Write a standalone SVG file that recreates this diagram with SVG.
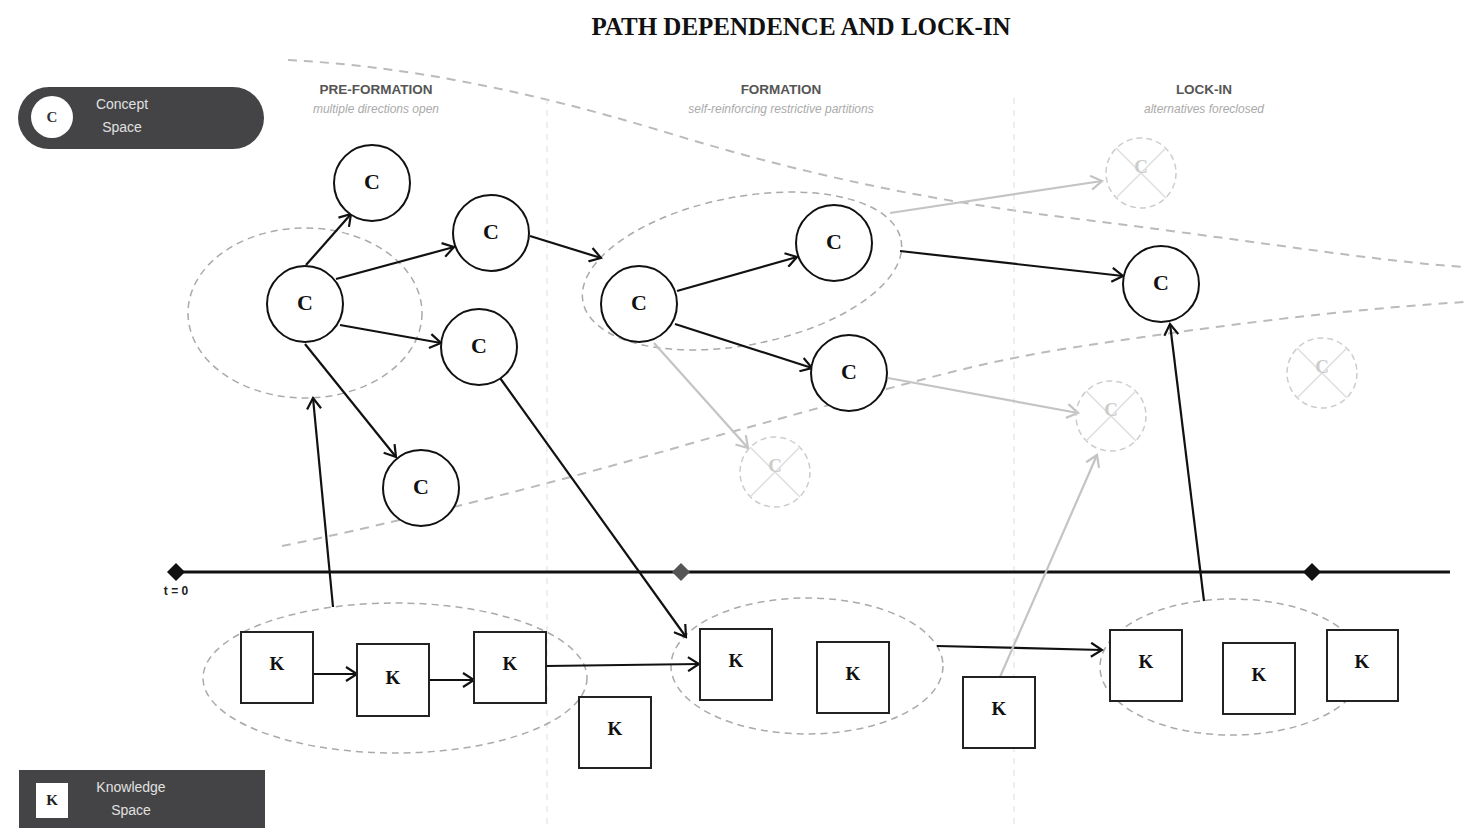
<svg xmlns="http://www.w3.org/2000/svg" width="1465" height="828" viewBox="0 0 1465 828">
<style>
.title{font-family:"Liberation Serif",serif;font-weight:bold;font-size:25px;fill:#111;text-anchor:middle}
.phase{font-family:"Liberation Sans",Arial,sans-serif;font-weight:bold;font-size:13.5px;fill:#555;text-anchor:middle}
.sub{font-family:"Liberation Sans",Arial,sans-serif;font-style:italic;font-size:12px;fill:#aaa;text-anchor:middle}
.cn{fill:#fff;stroke:#111;stroke-width:2}
.ct{font-family:"Liberation Serif",serif;font-weight:bold;font-size:22px;fill:#111;text-anchor:middle}
.kn{fill:#fff;stroke:#222;stroke-width:2}
.kt{font-family:"Liberation Serif",serif;font-weight:bold;font-size:19px;fill:#111;text-anchor:middle}
.fc{fill:none;stroke:#ccc;stroke-width:1.5;stroke-dasharray:6,4}
.fx{stroke:#ddd;stroke-width:1.5}
.ft{font-family:"Liberation Serif",serif;font-weight:bold;font-size:19px;fill:#ccc;text-anchor:middle}
.grp{fill:none;stroke:#aaa;stroke-width:1.5;stroke-dasharray:7,5}
.bound{fill:none;stroke:#bbb;stroke-width:2;stroke-dasharray:9,7}
.sep{stroke:#ddd;stroke-width:1;stroke-dasharray:6,6}
.ar{fill:none;stroke:#111;stroke-width:2.2;marker-end:url(#ab)}
.ag{fill:none;stroke:#c4c4c4;stroke-width:2.2;marker-end:url(#ag)}
.lt{font-family:"Liberation Sans",Arial,sans-serif;font-size:14px;fill:#e0e0e0;text-anchor:middle}
</style>
<defs>
<marker id="ab" viewBox="0 0 14 16" refX="12" refY="8" markerWidth="14" markerHeight="16" markerUnits="userSpaceOnUse" orient="auto">
<path d="M1,1 L12,8 L1,15" fill="none" stroke="#111" stroke-width="2.2"/>
</marker>
<marker id="ag" viewBox="0 0 14 16" refX="12" refY="8" markerWidth="14" markerHeight="16" markerUnits="userSpaceOnUse" orient="auto">
<path d="M1,1 L12,8 L1,15" fill="none" stroke="#c4c4c4" stroke-width="2.2"/>
</marker>
</defs>
<rect width="1465" height="828" fill="#fff"/>
<text class="title" x="801" y="35">PATH DEPENDENCE AND LOCK-IN</text>

<g id="boundaries">
<path class="bound" d="M288,60 C400,66 520,88 665,132 C780,167 900,197 1070,218 C1250,240 1380,262 1465,267"/>
<path class="bound" d="M282,546 C400,522 560,482 720,435 C880,392 960,365 1070,348 C1250,320 1380,307 1465,302"/>
</g>

<g id="phases">
<line class="sep" x1="547" y1="98" x2="547" y2="828"/>
<line class="sep" x1="1014" y1="98" x2="1014" y2="828"/>
<text class="phase" x="376" y="94">PRE-FORMATION</text>
<text class="sub" x="376" y="113">multiple directions open</text>
<text class="phase" x="781" y="94">FORMATION</text>
<text class="sub" x="781" y="113">self-reinforcing restrictive partitions</text>
<text class="phase" x="1204" y="94">LOCK-IN</text>
<text class="sub" x="1204" y="113">alternatives foreclosed</text>
</g>

<g id="timeline">
<line x1="176" y1="572" x2="1450" y2="572" stroke="#111" stroke-width="3"/>
<path d="M176,563 L185,572 L176,581 L167,572 Z" fill="#111"/>
<path d="M681,563 L690,572 L681,581 L672,572 Z" fill="#555"/>
<path d="M1312,563 L1321,572 L1312,581 L1303,572 Z" fill="#111"/>
<text x="176" y="595" font-family="Liberation Sans, Arial, sans-serif" font-weight="bold" font-size="12" fill="#222" text-anchor="middle">t = 0</text>
</g>

<g id="groups">
<ellipse class="grp" cx="305" cy="313" rx="117" ry="85"/>
<ellipse class="grp" cx="742" cy="271" rx="162" ry="74" transform="rotate(-11 742 271)"/>
<ellipse class="grp" cx="395" cy="678" rx="192" ry="75"/>
<ellipse class="grp" cx="807" cy="666" rx="136" ry="68"/>
<ellipse class="grp" cx="1232" cy="667" rx="132" ry="68"/>
</g>

<g id="connectors">
<line class="ar" x1="306" y1="265" x2="351" y2="214"/>
<line class="ar" x1="336" y1="279" x2="454" y2="247"/>
<line class="ar" x1="340" y1="325" x2="441" y2="343"/>
<line class="ar" x1="305" y1="344" x2="396" y2="457"/>
<line class="ar" x1="530" y1="236" x2="601" y2="258"/>
<line class="ar" x1="677" y1="291" x2="797" y2="257"/>
<line class="ar" x1="675" y1="324" x2="812" y2="368"/>
<line class="ar" x1="900" y1="251" x2="1123" y2="276"/>
<line class="ar" x1="313" y1="674" x2="357" y2="674"/>
<line class="ar" x1="429" y1="680" x2="474" y2="680"/>
<line class="ar" x1="546" y1="666" x2="699" y2="664"/>
<line class="ar" x1="937" y1="646" x2="1102" y2="650"/>
<line class="ar" x1="500" y1="378" x2="686" y2="637"/>
<line class="ar" x1="333" y1="607" x2="313" y2="398"/>
<line class="ar" x1="1204" y1="601" x2="1170" y2="324"/>
<line class="ag" x1="890" y1="213" x2="1102" y2="181"/>
<line class="ag" x1="654" y1="343" x2="748" y2="448"/>
<line class="ag" x1="888" y1="378" x2="1078" y2="413"/>
<line class="ag" x1="1000" y1="677" x2="1097" y2="455"/>
</g>

<g id="faded1"><circle class="fc" cx="1141" cy="173" r="35"/><line class="fx" x1="1116" y1="148" x2="1166" y2="198"/><line class="fx" x1="1166" y1="148" x2="1116" y2="198"/><text class="ft" x="1141" y="173">C</text></g>
<g id="faded2"><circle class="fc" cx="1322" cy="373" r="35"/><line class="fx" x1="1297" y1="348" x2="1347" y2="398"/><line class="fx" x1="1347" y1="348" x2="1297" y2="398"/><text class="ft" x="1322" y="373">C</text></g>
<g id="faded3"><circle class="fc" cx="1111" cy="416" r="35"/><line class="fx" x1="1086" y1="391" x2="1136" y2="441"/><line class="fx" x1="1136" y1="391" x2="1086" y2="441"/><text class="ft" x="1111" y="416">C</text></g>
<g id="faded4"><circle class="fc" cx="775" cy="472" r="35"/><line class="fx" x1="750" y1="447" x2="800" y2="497"/><line class="fx" x1="800" y1="447" x2="750" y2="497"/><text class="ft" x="775" y="472">C</text></g>

<g id="c1"><circle class="cn" cx="305" cy="304" r="38"/><text class="ct" x="305" y="310">C</text></g>
<g id="c2"><circle class="cn" cx="372" cy="183" r="38"/><text class="ct" x="372" y="189">C</text></g>
<g id="c3"><circle class="cn" cx="491" cy="233" r="38"/><text class="ct" x="491" y="239">C</text></g>
<g id="c4"><circle class="cn" cx="479" cy="347" r="38"/><text class="ct" x="479" y="353">C</text></g>
<g id="c5"><circle class="cn" cx="421" cy="488" r="38"/><text class="ct" x="421" y="494">C</text></g>
<g id="c6"><circle class="cn" cx="639" cy="304" r="38"/><text class="ct" x="639" y="310">C</text></g>
<g id="c7"><circle class="cn" cx="834" cy="243" r="38"/><text class="ct" x="834" y="249">C</text></g>
<g id="c8"><circle class="cn" cx="849" cy="373" r="38"/><text class="ct" x="849" y="379">C</text></g>
<g id="c9"><circle class="cn" cx="1161" cy="284" r="38"/><text class="ct" x="1161" y="290">C</text></g>

<g id="k1"><rect class="kn" x="241" y="632" width="72" height="71"/><text class="kt" x="277" y="670">K</text></g>
<g id="k2"><rect class="kn" x="357" y="644" width="72" height="72"/><text class="kt" x="393" y="684">K</text></g>
<g id="k3"><rect class="kn" x="474" y="632" width="72" height="71"/><text class="kt" x="510" y="670">K</text></g>
<g id="k4"><rect class="kn" x="579" y="697" width="72" height="71"/><text class="kt" x="615" y="735">K</text></g>
<g id="k5"><rect class="kn" x="700" y="629" width="72" height="71"/><text class="kt" x="736" y="667">K</text></g>
<g id="k6"><rect class="kn" x="817" y="642" width="72" height="71"/><text class="kt" x="853" y="680">K</text></g>
<g id="k7"><rect class="kn" x="963" y="677" width="72" height="71"/><text class="kt" x="999" y="715">K</text></g>
<g id="k8"><rect class="kn" x="1110" y="630" width="72" height="71"/><text class="kt" x="1146" y="668">K</text></g>
<g id="k9"><rect class="kn" x="1223" y="643" width="72" height="71"/><text class="kt" x="1259" y="681">K</text></g>
<g id="k10"><rect class="kn" x="1327" y="630" width="71" height="71"/><text class="kt" x="1362" y="668">K</text></g>

<g id="legend-concept">
<rect x="18" y="87" width="246" height="62" rx="31" fill="#444446"/>
<circle cx="52" cy="117" r="21" fill="#fff"/>
<text x="52" y="122" font-family="Liberation Serif, serif" font-weight="bold" font-size="15" fill="#333" text-anchor="middle">C</text>
<text class="lt" x="122" y="109">Concept</text>
<text class="lt" x="122" y="132">Space</text>
</g>
<g id="legend-knowledge">
<rect x="19" y="770" width="246" height="58" fill="#444446"/>
<rect x="36" y="783" width="32" height="35" fill="#fff"/>
<text x="52" y="805" font-family="Liberation Serif, serif" font-weight="bold" font-size="15" fill="#222" text-anchor="middle">K</text>
<text class="lt" x="131" y="792">Knowledge</text>
<text class="lt" x="131" y="815">Space</text>
</g>
</svg>
